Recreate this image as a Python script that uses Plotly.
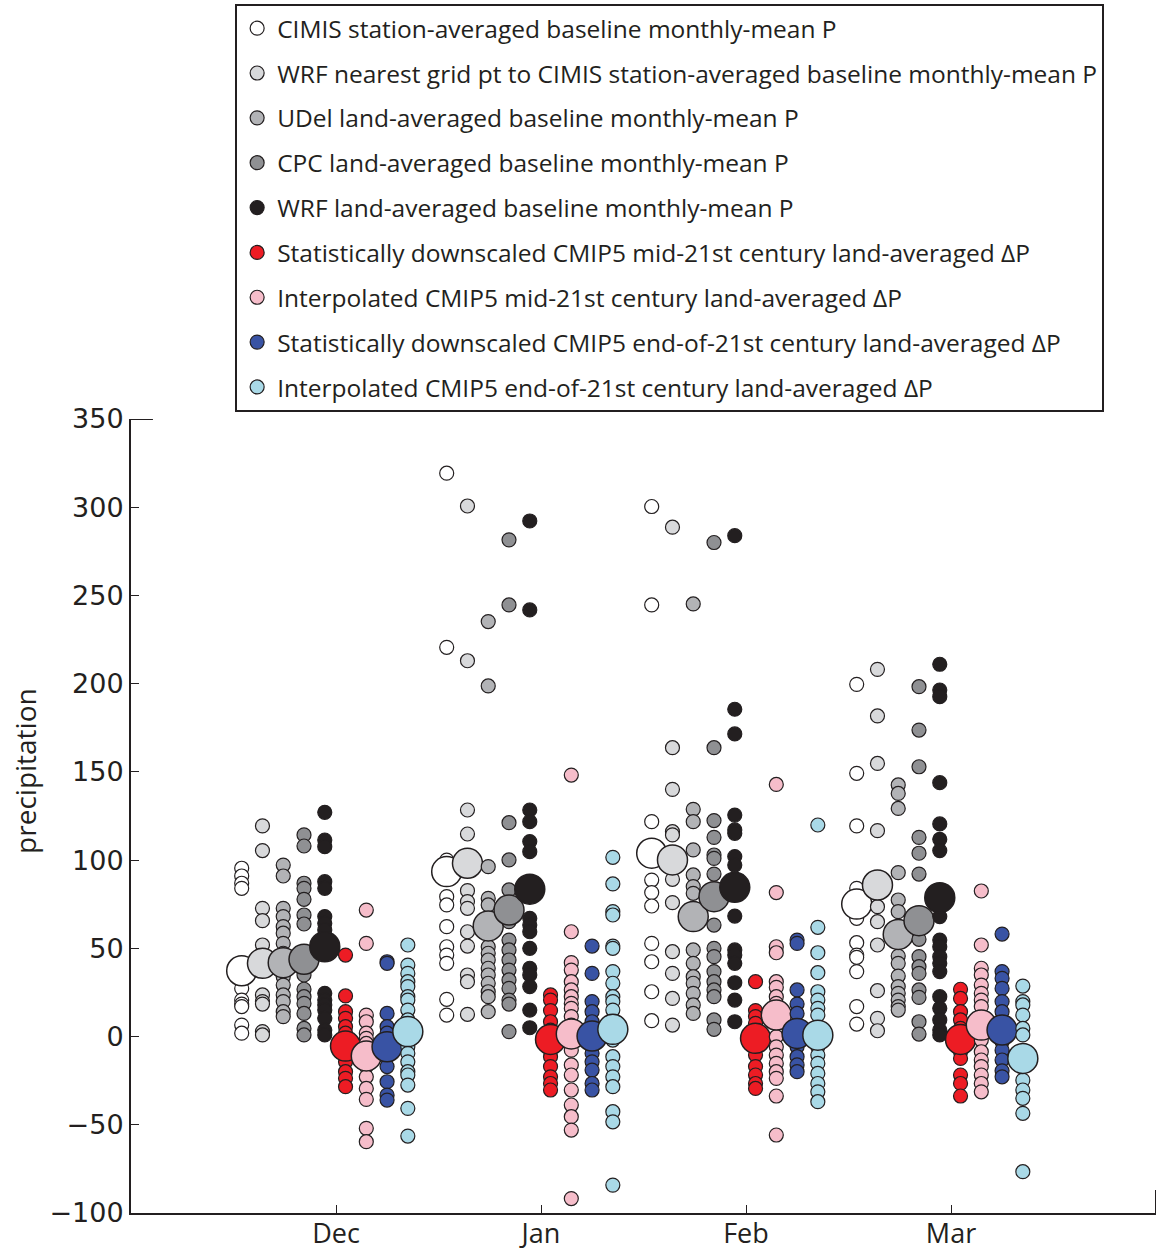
import plotly.graph_objects as go

months = ["Dec", "Jan", "Feb", "Mar"]

series_names = [
    "CIMIS station-averaged baseline monthly-mean P",
    "WRF nearest grid pt to CIMIS station-averaged baseline monthly-mean P",
    "UDel land-averaged baseline monthly-mean P",
    "CPC land-averaged baseline monthly-mean P",
    "WRF land-averaged baseline monthly-mean P",
    "Statistically downscaled CMIP5 mid-21st century land-averaged ΔP",
    "Interpolated CMIP5 mid-21st century land-averaged ΔP",
    "Statistically downscaled CMIP5 end-of-21st century land-averaged ΔP",
    "Interpolated CMIP5 end-of-21st century land-averaged ΔP",
]

# individual values per month [Dec, Jan, Feb, Mar]
cimis = [
    [95.4, 91, 86.9, 84, 27.3, 20.7, 18.4, 17, 6.5, 1.9],
    [319.3, 220.6, 100, 79.3, 74.6, 62.3, 50.9, 46.2, 41.5, 21.1, 12.2],
    [300.4, 244.6, 121.8, 88.7, 81.6, 74, 52.8, 42.4, 25.4, 9],
    [199.6, 149.2, 119.4, 84, 67, 53.2, 46.2, 44.9, 36.8, 17, 7.1],
]
wrf_near = [
    [119.4, 105.4, 72.7, 65.7, 51.9, 23.6, 19.8, 18.4, 2.8, 0.9],
    [300.7, 213, 128.4, 114.8, 82.7, 76.5, 72.7, 59.4, 51.3, 34.9, 31.1, 12.6],
    [288.7, 163.7, 140.1, 116.1, 114.3, 89.1, 75.9, 48.1, 35.8, 21.6, 6.5],
    [208.1, 181.7, 154.8, 116.7, 73.6, 65.1, 51.9, 26, 10.3, 3.3],
]
udel = [
    [97.2, 91, 72.7, 68, 62.3, 58.6, 52.8, 47.2, 33.9, 29.2, 23.6, 19.8, 14.1, 11.3],
    [235.2, 198.7, 96.3, 78.3, 74.6, 50.9, 47.2, 43.4, 38.7, 34.9, 30.2, 25.4, 22.6, 14.1],
    [245.2, 128.8, 121.8, 105.8, 91.6, 85, 81.2, 49.1, 41.5, 33.9, 30.2, 24.5, 17.9, 13.1],
    [142.6, 137.8, 129.3, 92.9, 77.4, 70.8, 45.6, 41.5, 34.3, 28.3, 24.5, 20.7, 17, 15],
]
cpc = [
    [114.3, 108, 86.9, 84, 77.8, 68.9, 63.8, 34.9, 26.8, 22.6, 18.8, 13.1, 4.6, 0.9],
    [281.5, 244.6, 121.2, 100.1, 83.1, 65.1, 54.7, 49.1, 43.4, 37.7, 32.1, 27.3, 20.7, 18.4, 2.8],
    [280, 163.7, 122.4, 112.9, 102.9, 101, 92.1, 63.2, 50, 45.3, 36.8, 31.1, 26.4, 22.6, 9.4, 4.1],
    [198.3, 173.7, 152.9, 112.9, 103.9, 92.1, 55.1, 45.3, 39.6, 35.8, 26.4, 22.2, 8.4, 1.4],
]
wrf_land = [
    [127.1, 111.4, 107.6, 87.8, 84, 68, 64.2, 60.4, 24.5, 20.7, 17.9, 15, 10.3, 3.7, 0.9],
    [292.2, 241.8, 128.4, 121.8, 110.5, 104.8, 67, 63.2, 59.4, 50, 38.7, 34.9, 28.3, 15, 5],
    [283.9, 185.5, 171.5, 125.5, 117.1, 115.2, 102, 97.2, 68.3, 49.1, 46.2, 41.5, 30.5, 20.7, 8.4],
    [211, 196.4, 192.6, 143.9, 120.5, 111.8, 105.4, 68, 54.7, 50.9, 45.3, 41.5, 36.8, 22.6, 16, 9.4, 3.7, 0.9],
]
sd_mid = [
    [46.2, 23, 14.1, 10.3, 5.6, 1.9, -9.5, -14.3, -19.9, -23.7, -28.4],
    [23.6, 20.7, 14.7, 8.4, 3.7, -7.7, -11.4, -17, -22.8, -26.6, -30.3],
    [31.1, 14.7, 11.3, 7.5, -5.8, -10.5, -17, -21.8, -26.6, -29.4],
    [26.8, 21.6, 14.1, 9.4, 4.6, -8.6, -12.4, -21.8, -26.6, -33.7],
]
interp_mid = [
    [71.7, 52.8, 12.2, 8.4, 1.9, -1, -3.9, -17, -22.8, -29.4, -35.6, -52, -59.6],
    [148.2, 59.4, 41.9, 37.7, 31.1, 26.4, 22.6, 18.8, 16, 11.3, 6.5, -7.7, -16.1, -21.8, -30.3, -38.8, -45.4, -53, -91.8],
    [142.9, 81.6, 50.9, 47.5, 31.1, 27.9, 22.6, 18.8, -0.1, -5.8, -10.5, -15.2, -19.9, -23.7, -33.7, -55.8],
    [82.5, 51.9, 38.7, 34.9, 29.2, 24.5, 20.7, 17, -2, -8.6, -13.3, -17, -21.8, -26.6, -31.3],
]
sd_end = [
    [42.4, 41.5, 13.1, 5.6, 1.9, -11.4, -17, -25.6, -33.2, -36],
    [51.3, 35.8, 19.8, 14.1, 8.4, -9.5, -14.3, -19, -26.6, -30.3],
    [54.7, 52.8, 26.4, 18.4, 13.1, -5.8, -11.4, -16.1, -19.9],
    [58.1, 36.8, 33, 27.3, 19.8, 14.1, -2.9, -7.7, -13.3, -19.4, -22.8],
]
interp_end = [
    [51.9, 40.5, 35.8, 31.1, 28.3, 22.6, 20.7, 15, 9.4, -1, -5.8, -9.5, -14.3, -19.9, -21.8, -27.5, -40.7, -56.4],
    [101.6, 86.5, 70.8, 68.9, 51.3, 50, 36.8, 30.2, 22.6, 19.8, 15, -2, -11.4, -17, -22.8, -28.4, -42.6, -48.3, -84.2],
    [119.9, 61.9, 47.5, 36.2, 25.4, 20.7, 16, 12.2, -5.8, -10.5, -15.2, -20.9, -26.6, -31.3, -36.9],
    [28.6, 19.8, 17.9, 12.2, 4.6, 0.9, -24.7, -30.3, -35, -43.5, -76.6],
]

# monthly means (large markers) [Dec, Jan, Feb, Mar]
cimis_mean = [37.3, 93.5, 103.9, 75.1]
wrf_near_mean = [41.5, 98.2, 100.1, 85.9]
udel_mean = [41.9, 62.7, 68.0, 57.9]
cpc_mean = [43.8, 71.7, 79.3, 65.7]
wrf_land_mean = [50.9, 83.5, 84.6, 78.7]
sd_mid_mean = [-5.4, -1.6, -1.0, -1.6]
interp_mid_mean = [-11.0, 1.5, 12.2, 6.5]
sd_end_mean = [-5.8, 0.3, 1.8, 3.7]
interp_end_mean = [2.8, 4.1, 0.8, -12.4]

all_values = [cimis, wrf_near, udel, cpc, wrf_land, sd_mid, interp_mid, sd_end, interp_end]
all_means = [cimis_mean, wrf_near_mean, udel_mean, cpc_mean, wrf_land_mean,
             sd_mid_mean, interp_mid_mean, sd_end_mean, interp_end_mean]

# styles
colors = ["#ffffff", "#d8d9db", "#b2b3b6", "#8f9093", "#231f20",
          "#ed1c24", "#f6bdca", "#3953a4", "#a9d9e7"]
offsets = [-0.46 + 0.1013 * i for i in range(9)]
edge = "#231f20"

fig = go.Figure()
for i in range(9):
    xs, ys = [], []
    for m in range(4):
        for v in all_values[i][m]:
            xs.append(m + 1 + offsets[i])
            ys.append(v)
    fig.add_trace(go.Scatter(
        x=xs, y=ys, mode="markers", name=series_names[i],
        legendgroup=f"g{i}",
        marker=dict(size=14, color=colors[i], line=dict(color=edge, width=1.2)),
        showlegend=True,
    ))
    fig.add_trace(go.Scatter(
        x=[m + 1 + offsets[i] for m in range(4)], y=all_means[i], mode="markers",
        name=series_names[i], legendgroup=f"g{i}", showlegend=False,
        marker=dict(size=30, color=colors[i], line=dict(color=edge, width=1.5)),
    ))

fig.add_shape(type="line", xref="x", yref="y", x0=0, x1=0.107, y0=350, y1=350,
              line=dict(color=edge, width=2))
fig.add_shape(type="line", xref="x", yref="y", x0=5, x1=5, y0=-100, y1=-87,
              line=dict(color=edge, width=2))

fig.add_annotation(text="precipitation", xref="paper", yref="paper",
                   x=-0.1035, y=0.5567, xanchor="center", yanchor="middle",
                   textangle=-90, showarrow=False,
                   font=dict(size=28, family="Open Sans, sans-serif", color=edge))

fig.update_layout(
    width=1160, height=1253,
    margin=dict(l=131, r=4, t=419, b=40),
    plot_bgcolor="white", paper_bgcolor="white",
    font=dict(family="Open Sans, sans-serif", color=edge),
    showlegend=True,
    legend=dict(
        x=0.1016, y=1.523, xanchor="left", yanchor="top",
        bordercolor=edge, borderwidth=2, bgcolor="white",
        font=dict(size=24.5, family="Open Sans, sans-serif", color=edge),
        tracegroupgap=10, itemsizing="trace",
    ),
    xaxis=dict(
        range=[0, 5], tickvals=[1, 2, 3, 4], ticktext=months,
        showgrid=False, zeroline=False, showline=True, linecolor=edge, linewidth=2,
        ticks="inside", ticklen=8, tickwidth=1.2, tickcolor=edge,
        tickfont=dict(size=27, family="Open Sans, sans-serif", color=edge),
        ticklabelstandoff=-4,
        automargin=False,
    ),
    yaxis=dict(
        range=[-100, 350], tickvals=[-100, -50, 0, 50, 100, 150, 200, 250, 300, 350],
        showgrid=False, zeroline=False, showline=True, linecolor=edge, linewidth=2,
        ticks="inside", ticklen=8, tickwidth=1.2, tickcolor=edge,
        tickfont=dict(size=27, family="DejaVu Sans, sans-serif", color=edge),
        automargin=False,
    ),
)

fig.write_html("out.html", config={"displayModeBar": False},
               post_script="document.body.style.margin='0';")
